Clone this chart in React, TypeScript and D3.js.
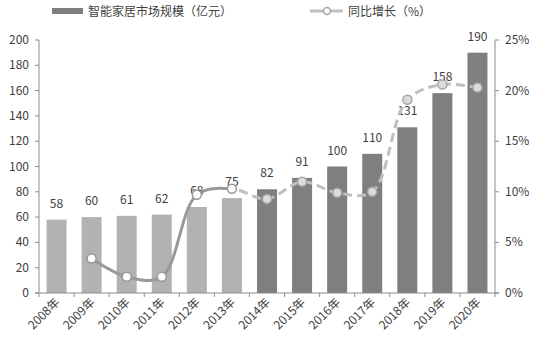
import React from "react";
import * as d3 from "d3";

const years = ["2008年","2009年","2010年","2011年","2012年","2013年","2014年","2015年","2016年","2017年","2018年","2019年","2020年"];
const marketSize = [58, 60, 61, 62, 68, 75, 82, 91, 100, 110, 131, 158, 190];
const growth: (number | null)[] = [null, 3.4, 1.6, 1.6, 9.7, 10.3, 9.3, 11.0, 9.9, 10.0, 19.1, 20.6, 20.3];
const leftTicks = [0, 20, 40, 60, 80, 100, 120, 140, 160, 180, 200];
const rightTicks = [0, 5, 10, 15, 20, 25];
const forecastStart = 6; // index of first dark bar (2014)

const W = 539, H = 352;
const left = 39, right = 495, top = 40, bottom = 293;
const FONT = "'Noto Sans CJK SC', 'DejaVu Sans', sans-serif";

export default function App() {
  const x = d3.scaleBand<string>().domain(years).range([left, right]).paddingInner(0.43).paddingOuter(0.215);
  const yL = d3.scaleLinear().domain([0, 200]).range([bottom, top]);
  const yR = d3.scaleLinear().domain([0, 25]).range([bottom, top]);
  const cx = (i: number) => (x(years[i]) as number) + x.bandwidth() / 2;
  const step = (right - left) / years.length;

  const pts = growth
    .map((g, i) => (g == null ? null : ([cx(i), yR(g)] as [number, number])))
    .filter((p): p is [number, number] => p !== null);
  const linePath = d3.line().curve(d3.curveCatmullRom.alpha(0.5))(pts) || "";
  const splitX = cx(5);

  return (
    <svg width={W} height={H} style={{ position: "absolute", left: 0, top: 0, background: "#fff" }} fontFamily={FONT}>
      <defs>
        <clipPath id="solidPart"><rect x={0} y={0} width={splitX} height={H} /></clipPath>
        <clipPath id="dashPart"><rect x={splitX} y={0} width={W - splitX} height={H} /></clipPath>
      </defs>

      {/* Legend */}
      <rect x={52} y={8} width={31} height={6} fill="#7f7f7f" />
      <text x={88} y={16} fontSize={12} fill="#404040">智能家居市场规模（亿元）</text>
      <line x1={310} x2={343} y1={11} y2={11} stroke="#bfbfbf" strokeWidth={3} />
      <circle cx={327} cy={11} r={3.5} fill="#fff" stroke="#a6a6a6" strokeWidth={1.5} />
      <text x={348} y={16} fontSize={12} fill="#404040">同比增长（%）</text>

      {/* Bars */}
      {marketSize.map((v, i) => (
        <rect key={years[i]} x={x(years[i])} y={yL(v)} width={x.bandwidth()} height={bottom - yL(v)}
          fill={i < forecastStart ? "#b2b2b2" : "#7f7f7f"} />
      ))}

      {/* Left axis */}
      <line x1={left} x2={left} y1={top} y2={bottom} stroke="#8c8c8c" />
      {leftTicks.map((t) => (
        <g key={"l" + t}>
          <line x1={left - 4} x2={left} y1={yL(t)} y2={yL(t)} stroke="#8c8c8c" />
          <text x={left - 10} y={yL(t) + 4} fontSize={12} textAnchor="end" fill="#404040">{t}</text>
        </g>
      ))}

      {/* Right axis */}
      <line x1={right} x2={right} y1={top} y2={bottom} stroke="#8c8c8c" />
      {rightTicks.map((t) => (
        <g key={"r" + t}>
          <line x1={right} x2={right + 4} y1={yR(t)} y2={yR(t)} stroke="#8c8c8c" />
          <text x={right + 10} y={yR(t) + 4} fontSize={12} textAnchor="start" fill="#404040">{t}%</text>
        </g>
      ))}

      {/* X axis */}
      <line x1={left - 4} x2={right + 4} y1={bottom} y2={bottom} stroke="#8c8c8c" />
      {d3.range(years.length + 1).map((k) => (
        <line key={"xt" + k} x1={left + k * step} x2={left + k * step} y1={bottom} y2={bottom + 4} stroke="#8c8c8c" />
      ))}
      {years.map((yr, i) => (
        <text key={"xl" + yr} transform={`translate(${cx(i) + 4},${bottom + 10}) rotate(-45)`} fontSize={12}
          textAnchor="end" fill="#404040">{yr}</text>
      ))}

      {/* Bar labels */}
      {marketSize.map((v, i) => (
        <text key={"bl" + i} x={cx(i)} y={yL(v) - 12} fontSize={12} textAnchor="middle" fill="#404040">{v}</text>
      ))}

      {/* Growth line */}
      <path d={linePath} fill="none" stroke="#999999" strokeWidth={3} clipPath="url(#solidPart)" />
      <path d={linePath} fill="none" stroke="#bfbfbf" strokeWidth={3} strokeDasharray="9,5" clipPath="url(#dashPart)" />
      {growth.map((g, i) => g == null ? null : (
        <circle key={"pt" + i} cx={cx(i)} cy={yR(g)} r={4.5}
          fill={i < forecastStart ? "#ffffff" : "#dcdce0"}
          stroke={i < forecastStart ? "#999999" : "#a6a6a6"} strokeWidth={1.5} />
      ))}
    </svg>
  );
}
